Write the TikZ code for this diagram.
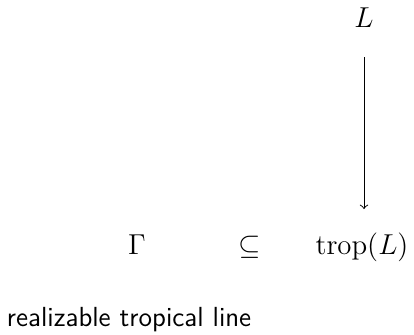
\documentclass[tikz,border=0pt]{standalone}
\usepackage{amssymb}
\begin{document}
\begin{tikzpicture}[x=0.4167pt,y=-0.4167pt,
  every node/.style={font=\fontsize{11.5}{14}\selectfont},
  lbl/.style={inner sep=0pt,outer sep=0pt},
  arr/.style={->,line width=0.4pt}]
\useasboundingbox (0,0) rectangle (414,334);
\node[lbl,anchor=base] (L) at (364,27) {$L$};
\node[lbl,anchor=base] (trop) at (362,254) {$\mathrm{trop}(L)$};
\node[lbl,anchor=base] (G) at (137,254) {$\Gamma$};
\node[lbl,anchor=base] (sub) at (250,254) {$\subseteq$};
\node[lbl,anchor=base west,font=\fontsize{11.5}{14}\selectfont\sffamily] (cap) at (7,326) {realizable tropical line};
\coordinate (a1) at (364,57);
\coordinate (a2) at (364,209);
\draw[arr] (a1) -- (a2);
\end{tikzpicture}
\end{document}
